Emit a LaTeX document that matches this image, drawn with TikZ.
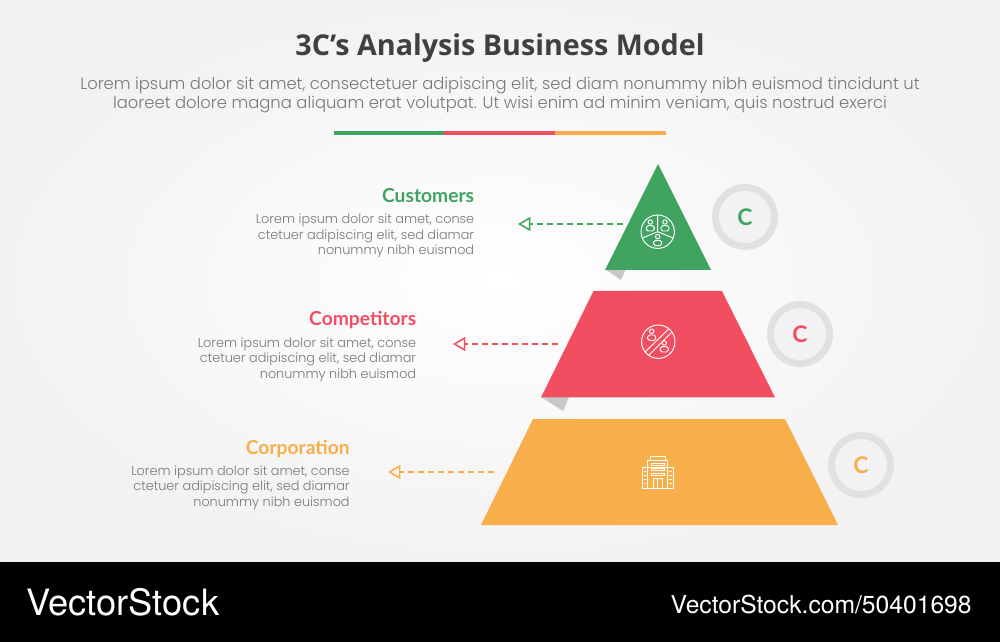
\documentclass[tikz,border=0pt]{standalone}
\usepackage{fontspec}
\setmainfont{Poppins Light}
\newfontfamily\headfont{Lato}
\newfontfamily\titlefont{Open Sans}
\newfontfamily\brandfont{TeX Gyre Heros}
\usetikzlibrary{arrows.meta, positioning}
\definecolor{cgreen}{RGB}{64,163,96}
\definecolor{cred}{RGB}{242,78,97}
\definecolor{corange}{RGB}{248,174,74}
\definecolor{cring}{RGB}{225,225,225}
\definecolor{cinner}{RGB}{242,242,244}
\definecolor{cfold}{RGB}{200,200,200}
\definecolor{ctext}{RGB}{120,120,120}
\definecolor{ctitle}{RGB}{64,64,64}
\tikzset{
  headline/.style={font=\headfont\bfseries\fontsize{10.95pt}{12pt}\selectfont, anchor=east, inner sep=0pt},
  bodytext/.style={font=\fontsize{7.3pt}{8.8pt}\selectfont, color=ctext, align=right, anchor=north east, inner sep=0pt},
  pointer/.style={dash pattern=on 3.6pt off 2.1pt, line width=0.85pt, -{Triangle[open, length=7pt, width=8pt, line width=0.85pt]}},
  icon/.style={white, line width=0.55pt},
  ringletter/.style={font=\headfont\bfseries\fontsize{13pt}{13pt}\selectfont, inner sep=0pt}
}
\newcommand{\personicon}[2]{
  \draw [icon] (#1,#2-3.7) circle (2.2);
  \draw [icon, rounded corners=1pt] (#1-4,#2+5.3) -- (#1-4,#2) -- (#1+4,#2) -- (#1+4,#2+5.3) -- cycle;
}
\newcommand{\ringbadge}[4]{
  \draw [cring, line width=3.9pt, fill=cinner] (#1,#2) circle (29.5);
  \node [ringletter, color=#3] (#4) at (#1,#2) {C};
}
\begin{document}
\begin{tikzpicture}[x=0.2mm, y=-0.2mm]
    \useasboundingbox (0,0) rectangle (1000,642);
    %fond
    \shade [inner color=white, outer color=black!5] (0,0) rectangle (1000,562);
    \fill [black] (0,562) rectangle (1000,642);

    %titre
    \node [font=\titlefont\bfseries\fontsize{16.33pt}{20pt}\selectfont, color=ctitle] (title) at (500,48) {3C’s Analysis Business Model};
    \node [font=\fontsize{9.33pt}{11.1pt}\selectfont, color=ctext, align=center] (subtitle) at (500,95) {Lorem ipsum dolor sit amet, consectetuer adipiscing elit, sed diam nonummy nibh euismod tincidunt ut\\laoreet dolore magna aliquam erat volutpat. Ut wisi enim ad minim veniam, quis nostrud exerci};

    %barre sous le titre
    \fill [cgreen] (334,131) rectangle (444,135);
    \fill [cred] (444,131) rectangle (555,135);
    \fill [corange] (555,131) rectangle (666,135);

    %plis gris
    \fill [cfold] (605,269) -- (626,269) -- (621,280) -- cycle;
    \fill [cfold] (541,397) -- (569,397) -- (563,411) -- cycle;

    %les trois etages
    \fill [cgreen] (658,164) -- (711,270) -- (605,270) -- cycle;
    \fill [cred] (593.5,291) -- (722,291) -- (775,397.5) -- (541,397.5) -- cycle;
    \fill [corange] (533,419) -- (785,419) -- (838,525) -- (481,525) -- cycle;

    %icone clients
    \draw [icon] (657.7,231.7) circle (16.7);
    \draw [icon] (657.7,215) -- (657.7,231.7) -- (673,238);
    \draw [icon] (657.7,231.7) -- (642.4,238);
    \personicon{650.3}{225.7}
    \personicon{665}{225.7}
    \personicon{657.7}{240.3}

    %icone concurrents
    \draw [icon] (658.3,341.7) circle (16.7);
    \draw [icon] (645,352) -- (668.3,329.3);
    \draw [icon] (648.3,355.7) -- (671.7,332.3);
    \personicon{651.7}{335}
    \personicon{664.3}{346.7}

    %icone immeuble
    \draw [icon] (650,460) -- (650,456.7) -- (665,456.7) -- (665,460);
    \draw [icon] (647.7,488.3) -- (647.7,460) -- (667.7,460) -- (667.7,488.3);
    \draw [icon] (642.7,467.7) rectangle (673.3,488.3);
    \draw [icon] (651,463) rectangle (664.5,465.5);
    \draw [icon] (651,468) rectangle (664.5,470.5);
    \draw [icon] (651,473) rectangle (664.5,475.5);
    \draw [icon] (653.3,488.3) -- (653.3,478.3) -- (662,478.3) -- (662,488.3);
    \draw [icon] (657.7,478.3) -- (657.7,488.3);
    \foreach \y in {471,475,479,483} {
      \draw [icon] (644.2,\y) -- (646.2,\y);
      \draw [icon] (669.2,\y) -- (671.7,\y);
    }

    %anneaux
    \ringbadge{745}{217}{cgreen}{ringa}
    \ringbadge{800}{334}{cred}{ringb}
    \ringbadge{861}{465}{corange}{ringc}

    %textes
    \node [headline, color=cgreen] (customers) at (474.5,196) {Customers};
    \node [bodytext] (customerstext) at (474.5,214) {Lorem ipsum dolor sit amet, conse\\ctetuer adipiscing elit, sed diamar\\nonummy nibh euismod};
    \node [headline, color=cred] (competitors) at (416.5,320) {Competitors};
    \node [bodytext] (competitorstext) at (416.5,337.5) {Lorem ipsum dolor sit amet, conse\\ctetuer adipiscing elit, sed diamar\\nonummy nibh euismod};
    \node [headline, color=corange] (corporation) at (350,449) {Corporation};
    \node [bodytext] (corporationtext) at (350,465.5) {Lorem ipsum dolor sit amet, conse\\ctetuer adipiscing elit, sed diamar\\nonummy nibh euismod};

    %fleches
    \coordinate (customersfrom) at (623,224);
    \coordinate (customersto) at (518,224);
    \coordinate (competitorsfrom) at (558,344);
    \coordinate (competitorsto) at (453,344);
    \coordinate (corporationfrom) at (494,472);
    \coordinate (corporationto) at (388,472);
    \draw [pointer, cgreen] (customersfrom) -- (customersto);
    \draw [pointer, cred] (competitorsfrom) -- (competitorsto);
    \draw [pointer, corange] (corporationfrom) -- (corporationto);

    %bandeau noir
    \node [font=\brandfont\fontsize{20.65pt}{24pt}\selectfont, white, anchor=west, inner sep=0pt] (brand) at (26,602) {VectorStock};
    \node [font=\brandfont\fontsize{14.03pt}{16pt}\selectfont, white, anchor=east, inner sep=0pt] (brandurl) at (972,605) {VectorStock.com/50401698};
  \end{tikzpicture}
\end{document}
